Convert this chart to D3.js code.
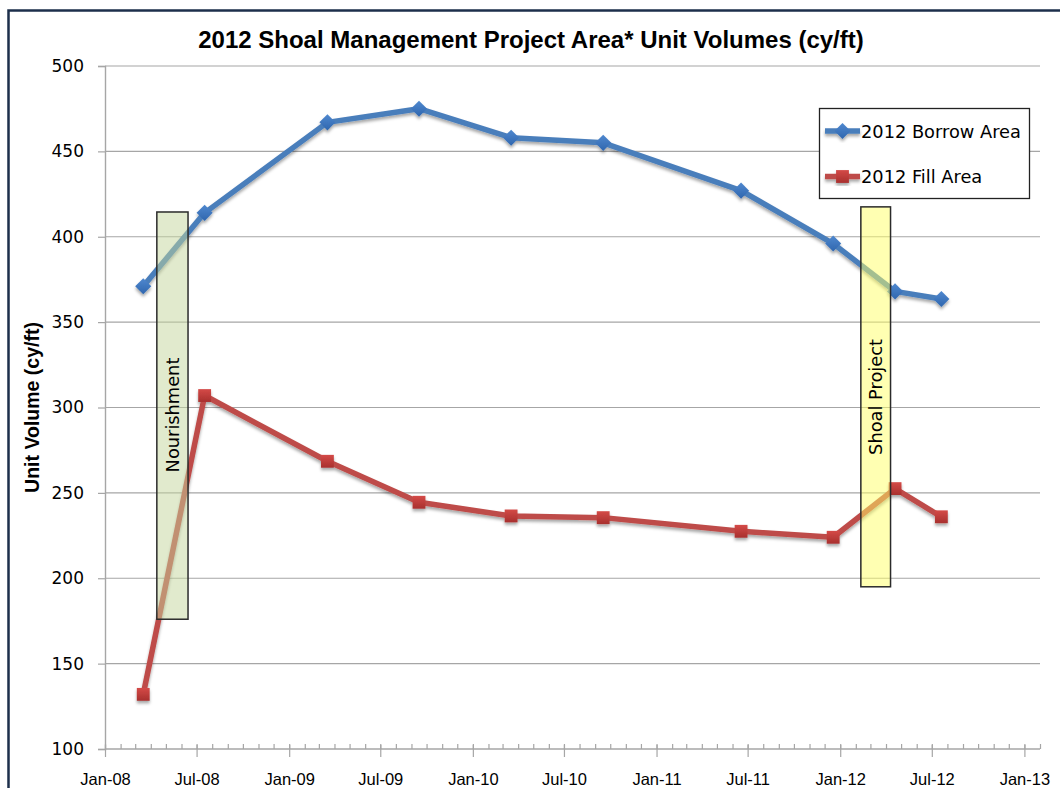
<!DOCTYPE html>
<html>
<head>
<meta charset="utf-8">
<script src="https://cdn.jsdelivr.net/npm/d3@7"></script>
<style>
  html, body { margin: 0; padding: 0; background: #fff; }
  svg { display: block; }
</style>
</head>
<body>
<svg id="chart" width="1060" height="788"></svg>
<script>
// Survey dates and unit volumes (cy/ft)
const surveyDates = ["2008-03-17", "2008-07-17", "2009-03-18", "2009-09-16", "2010-03-18",
                     "2010-09-17", "2011-06-18", "2011-12-18", "2012-04-19", "2012-07-20"];
const borrowArea = [371, 414, 467, 475, 458, 455, 427, 396, 368, 363.5];
const fillArea   = [132, 307, 268.5, 244.5, 236.5, 235.5, 227.5, 224, 252.5, 236];
const seriesNames = ["2012 Borrow Area", "2012 Fill Area"];

// Event windows: label, start, end, low, high
const eventLabels = ["Nourishment", "Shoal Project"];
const eventStarts = ["2008-04-13", "2012-02-11"];
const eventEnds   = ["2008-06-14", "2012-04-10"];
const eventLows   = [176, 195];
const eventHighs  = [414.5, 417.5];

const yTicks = [100, 150, 200, 250, 300, 350, 400, 450, 500];

const parse = d3.timeParse("%Y-%m-%d");
const dates = surveyDates.map(parse);

const svg = d3.select("#chart");
const W = 1060, H = 788;
const plotLeft = 105, plotRight = 1040, plotTop = 66, plotBottom = 749;

const x = d3.scaleTime()
  .domain([new Date(2008, 0, 1), new Date(2013, 1, 1)])
  .range([plotLeft, plotRight]);
const y = d3.scaleLinear().domain([100, 500]).range([plotBottom, plotTop]);

// Outer chart frame
svg.append("rect")
  .attr("x", 8.5).attr("y", 10.5)
  .attr("width", W + 20).attr("height", H + 20)
  .attr("fill", "#fff").attr("stroke", "#1d2f4b").attr("stroke-width", 2.5);

// Drop shadow for series
const defs = svg.append("defs");
const shadow = defs.append("filter").attr("id", "shadow")
  .attr("x", "-20%").attr("y", "-20%").attr("width", "140%").attr("height", "140%");
shadow.append("feDropShadow")
  .attr("dx", 0).attr("dy", 2.5).attr("stdDeviation", 1.6)
  .attr("flood-color", "#000").attr("flood-opacity", 0.35);

const sqGrad = defs.append("linearGradient").attr("id", "sqGrad")
  .attr("x1", 0).attr("y1", 0).attr("x2", 0).attr("y2", 1);
sqGrad.append("stop").attr("offset", "0%").attr("stop-color", "#d44a47");
sqGrad.append("stop").attr("offset", "100%").attr("stop-color", "#a8302e");

const dmGrad = defs.append("linearGradient").attr("id", "dmGrad")
  .attr("x1", 0).attr("y1", 0).attr("x2", 0).attr("y2", 1);
dmGrad.append("stop").attr("offset", "0%").attr("stop-color", "#4f88cf");
dmGrad.append("stop").attr("offset", "100%").attr("stop-color", "#2f66ae");

// Horizontal gridlines
svg.append("g").selectAll("line")
  .data(yTicks.slice(1))
  .join("line")
  .attr("x1", plotLeft).attr("x2", plotRight)
  .attr("y1", d => y(d)).attr("y2", d => y(d))
  .attr("stroke", "#a6a6a6").attr("stroke-width", 1.2);

// Y axis
const yAxis = svg.append("g")
  .attr("transform", `translate(${plotLeft},0)`)
  .call(d3.axisLeft(y).tickValues(yTicks).tickSize(7).tickPadding(14));
yAxis.select(".domain").attr("stroke", "#a6a6a6").attr("stroke-width", 1.4);
yAxis.selectAll(".tick line").attr("stroke", "#a6a6a6").attr("stroke-width", 1.2);
yAxis.selectAll(".tick text")
  .attr("font-family", "DejaVu Sans, sans-serif").attr("font-size", 17)
  .attr("fill", "#000");

// X axis: monthly minor ticks, half-yearly major ticks
const minorMonths = d3.timeMonth.range(new Date(2008, 0, 1), new Date(2013, 1, 2));
const majorMonths = d3.timeMonth.every(6).range(new Date(2008, 0, 1), new Date(2013, 0, 2));

const xMinor = svg.append("g")
  .attr("transform", `translate(0,${plotBottom})`)
  .call(d3.axisTop(x).tickValues(minorMonths).tickSize(5).tickFormat(""));
xMinor.select(".domain").attr("stroke", "#a6a6a6").attr("stroke-width", 1.4)
  .attr("d", `M${plotLeft},0H${plotRight}`);
xMinor.selectAll(".tick line").attr("stroke", "#a6a6a6").attr("stroke-width", 1.2);

const xMajor = svg.append("g")
  .attr("transform", `translate(0,${plotBottom - 4})`)
  .call(d3.axisBottom(x).tickValues(majorMonths).tickSize(12)
    .tickPadding(16).tickFormat(d3.timeFormat("%b-%y")));
xMajor.select(".domain").remove();
xMajor.selectAll(".tick line").attr("stroke", "#a6a6a6").attr("stroke-width", 1.2);
xMajor.selectAll(".tick text")
  .attr("font-family", "Liberation Sans, Arial, sans-serif")
  .attr("font-size", 16.5).attr("fill", "#000");

// Series lines and markers
const series = [
  { name: seriesNames[0], values: borrowArea, color: "#4a7ebb", marker: "diamond" },
  { name: seriesNames[1], values: fillArea, color: "#be4b48", marker: "square" }
];

const line = d3.line().x((d, i) => x(dates[i])).y(d => y(d));
const diamondPath = d3.symbol(d3.symbolDiamond2, 165)();
const squarePath = d3.symbol(d3.symbolSquare2, 210)();

series.forEach(s => {
  const g = svg.append("g").attr("filter", "url(#shadow)");
  g.append("path")
    .datum(s.values)
    .attr("d", line)
    .attr("fill", "none")
    .attr("stroke", s.color)
    .attr("stroke-width", 5.5)
    .attr("stroke-linejoin", "round");
  g.selectAll("path.mk")
    .data(s.values)
    .join("path")
    .attr("class", "mk")
    .attr("transform", (d, i) => `translate(${x(dates[i])},${y(d)})`)
    .attr("d", s.marker === "diamond" ? diamondPath : squarePath)
    .attr("fill", s.marker === "diamond" ? "url(#dmGrad)" : "url(#sqGrad)");
});

// Event windows, drawn over the series with translucent fills
const eventFills = ["#c3d69b", "#ffff66"];
const eventTextY = [415, 397];
eventLabels.forEach((label, i) => {
  const x0 = x(parse(eventStarts[i])), x1 = x(parse(eventEnds[i]));
  const y0 = y(eventHighs[i]), y1 = y(eventLows[i]);
  svg.append("rect")
    .attr("x", x0).attr("y", y0)
    .attr("width", x1 - x0).attr("height", y1 - y0)
    .attr("fill", eventFills[i]).attr("fill-opacity", 0.5)
    .attr("stroke", "#2b2b2b").attr("stroke-width", 1.5);
  const cx = (x0 + x1) / 2;
  svg.append("text")
    .attr("transform", `translate(${cx + 6.5},${eventTextY[i]}) rotate(-90)`)
    .attr("text-anchor", "middle")
    .attr("font-family", "DejaVu Sans, sans-serif")
    .attr("font-size", 17.8)
    .attr("fill", "#000")
    .text(label);
});

// Legend
const legend = svg.append("g");
legend.append("rect")
  .attr("x", 819.5).attr("y", 108.5).attr("width", 210).attr("height", 90)
  .attr("fill", "#fff").attr("stroke", "#222").attr("stroke-width", 1.3);
series.forEach((s, i) => {
  const ly = 131 + i * 45.5;
  const g = legend.append("g").attr("filter", "url(#shadow)");
  g.append("line")
    .attr("x1", 825).attr("x2", 860).attr("y1", ly).attr("y2", ly)
    .attr("stroke", s.color).attr("stroke-width", 5.5);
  g.append("path")
    .attr("transform", `translate(842.5,${ly})`)
    .attr("d", s.marker === "diamond" ? diamondPath : squarePath)
    .attr("fill", s.marker === "diamond" ? "url(#dmGrad)" : "url(#sqGrad)");
  legend.append("text")
    .attr("x", 861).attr("y", ly + 6.5)
    .attr("font-family", "DejaVu Sans, sans-serif")
    .attr("font-size", 17.8)
    .attr("fill", "#000")
    .text(s.name);
});

// Title and axis title
svg.append("text")
  .attr("x", 531).attr("y", 48)
  .attr("text-anchor", "middle")
  .attr("font-family", "Liberation Sans, Arial, sans-serif")
  .attr("font-weight", "bold")
  .attr("font-size", 24)
  .attr("fill", "#000")
  .text("2012 Shoal Management Project Area* Unit Volumes (cy/ft)");

svg.append("text")
  .attr("transform", `translate(39,${(plotTop + plotBottom) / 2}) rotate(-90)`)
  .attr("text-anchor", "middle")
  .attr("font-family", "Liberation Sans, Arial, sans-serif")
  .attr("font-weight", "bold")
  .attr("font-size", 19.5)
  .attr("fill", "#000")
  .text("Unit Volume (cy/ft)");
</script>
</body>
</html>
